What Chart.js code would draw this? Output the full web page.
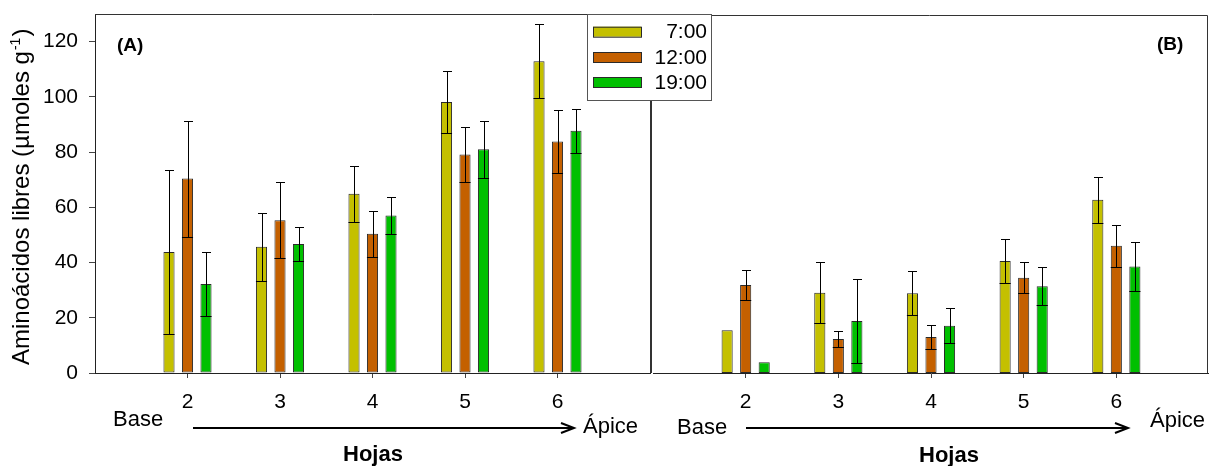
<!DOCTYPE html>
<html><head><meta charset="utf-8">
<script src="https://cdn.jsdelivr.net/npm/chart.js@4.4.1/dist/chart.umd.min.js"></script>
<style>
html,body{margin:0;padding:0;background:#fff;}
#wrap{position:relative;width:1209px;height:466px;overflow:hidden;}
canvas{position:absolute;left:0;top:0;}
</style></head><body>
<div id="wrap"><canvas id="ca" width="1209" height="466"></canvas><canvas id="cb" width="1209" height="466"></canvas></div>
<script>
// ---- data ----
const leaves = [2, 3, 4, 5, 6];
const yTicks = [0, 20, 40, 60, 80, 100, 120];
const seriesNames = ['7:00', '12:00', '19:00'];

const a700 = [43.8, 45.7, 64.9, 98.1, 112.9];
const a700sd = [29.8, 12.4, 10.1, 11.3, 13.4];
const a1200 = [70.4, 55.3, 50.4, 79.1, 83.8];
const a1200sd = [21.0, 13.8, 8.4, 10.0, 11.3];
const a1900 = [32.2, 46.7, 57.0, 81.0, 87.7];
const a1900sd = [11.6, 6.3, 6.8, 10.3, 7.9];

const b700 = [15.5, 29.1, 28.9, 40.6, 62.7];
const b700sd = [0, 11.0, 8.0, 8.0, 8.4];
const b1200 = [31.9, 12.3, 13.0, 34.5, 46.1];
const b1200sd = [5.3, 3.0, 4.3, 5.6, 7.6];
const b1900 = [3.9, 18.8, 17.1, 31.4, 38.6];
const b1900sd = [0, 15.2, 6.3, 6.9, 9.0];

// ---- styles ----
const FONT = '"Liberation Sans", Arial, sans-serif';
const colors = ['#c4c000', '#c46000', '#00c000'];
Chart.defaults.font.family = FONT;
Chart.defaults.color = '#000';

function makeDatasets(vals, sds) {
  return vals.map((v, i) => ({
    label: seriesNames[i],
    data: leaves.map((x, j) => ({ x: x, y: v[j] })),
    errors: sds[i],
    backgroundColor: colors[i],
    borderColor: '#2a2a2a',
    borderWidth: 1,
    borderSkipped: false,
    categoryPercentage: 0.6,
    barPercentage: 0.6
  }));
}

const errorBars = {
  id: 'errorBars',
  afterDatasetsDraw(chart) {
    const ctx = chart.ctx, ys = chart.scales.y;
    ctx.save();
    ctx.strokeStyle = '#000';
    ctx.lineWidth = 1;
    chart.data.datasets.forEach((ds, i) => {
      const meta = chart.getDatasetMeta(i);
      meta.data.forEach((bar, j) => {
        const sd = ds.errors[j];
        if (!sd) return;
        const v = ds.data[j].y;
        const x = Math.round(bar.x) + 0.5;
        const yt = Math.round(ys.getPixelForValue(v + sd)) + 0.5;
        const yb = Math.round(ys.getPixelForValue(v - sd)) + 0.5;
        const hw = bar.width / 2;
        ctx.beginPath();
        ctx.moveTo(x, yb); ctx.lineTo(x, yt);
        ctx.moveTo(x - 4.5, yt); ctx.lineTo(x + 4.5, yt);
        ctx.moveTo(bar.x - hw, yb); ctx.lineTo(bar.x + hw, yb);
        ctx.stroke();
      });
    });
    ctx.restore();
  }
};

function drawArrow(ctx, x1, x2, y) {
  ctx.save();
  ctx.strokeStyle = '#000';
  ctx.lineWidth = 2;
  ctx.beginPath();
  ctx.moveTo(x1, y); ctx.lineTo(x2, y);
  ctx.moveTo(x2 - 13, y - 5); ctx.lineTo(x2, y); ctx.lineTo(x2 - 13, y + 5);
  ctx.stroke();
  ctx.restore();
}

function text(ctx, s, x, y, font, align) {
  ctx.save();
  ctx.font = font;
  ctx.fillStyle = '#000';
  ctx.textAlign = align || 'left';
  ctx.textBaseline = 'middle';
  ctx.fillText(s, x, y);
  ctx.restore();
}

const decoA = {
  id: 'decoA',
  afterDraw(chart) {
    const ctx = chart.ctx, a = chart.chartArea;
    ctx.save();
    ctx.strokeStyle = '#333';
    ctx.lineWidth = 1;
    ctx.beginPath();
    ctx.moveTo(a.left, a.top + 0.5); ctx.lineTo(a.right + 0.5, a.top + 0.5);
    ctx.lineTo(a.right + 0.5, a.bottom);
    ctx.stroke();
    ctx.restore();
    text(ctx, '(A)', 117, 46, 'bold 19px ' + FONT);
    text(ctx, 'Base', 113, 420, '22px ' + FONT);
    text(ctx, 'Ápice', 583, 427, '22px ' + FONT);
    drawArrow(ctx, 193, 574, 428);
    text(ctx, 'Hojas', 373, 455, 'bold 22px ' + FONT, 'center');
    // y title
    ctx.save();
    ctx.translate(29, 365);
    ctx.rotate(-Math.PI / 2);
    ctx.fillStyle = '#000';
    ctx.textBaseline = 'alphabetic';
    ctx.font = '24px ' + FONT;
    const main = 'Aminoácidos libres (µmoles g';
    ctx.fillText(main, 0, 0);
    let w = ctx.measureText(main).width;
    ctx.font = '14px ' + FONT;
    ctx.fillText('-1', w + 1, -9);
    w += ctx.measureText('-1').width + 2;
    ctx.font = '24px ' + FONT;
    ctx.fillText(')', w, 0);
    ctx.restore();
  }
};

const decoB = {
  id: 'decoB',
  afterDraw(chart) {
    const ctx = chart.ctx, a = chart.chartArea;
    ctx.save();
    ctx.strokeStyle = '#333';
    ctx.lineWidth = 1;
    ctx.beginPath();
    ctx.moveTo(a.left - 1.5, a.bottom); ctx.lineTo(a.left - 1.5, a.top + 1.5);
    ctx.lineTo(a.right - 1.5, a.top + 1.5); ctx.lineTo(a.right - 1.5, a.bottom);
    ctx.stroke();
    ctx.restore();
    text(ctx, '(B)', 1157, 45, 'bold 19px ' + FONT);
    text(ctx, 'Base', 677, 428, '22px ' + FONT);
    text(ctx, 'Ápice', 1150, 421, '22px ' + FONT);
    drawArrow(ctx, 746, 1128, 428);
    text(ctx, 'Hojas', 949, 456, 'bold 22px ' + FONT, 'center');
    // legend box
    ctx.save();
    ctx.fillStyle = '#fff';
    ctx.fillRect(587, 14, 125, 86);
    ctx.strokeStyle = '#555';
    ctx.lineWidth = 1;
    ctx.strokeRect(587.5, 14.5, 124, 86);
    const rows = [31.7, 57, 82];
    rows.forEach((ry, i) => {
      ctx.fillStyle = colors[i];
      ctx.fillRect(593, ry - 5, 48, 10);
      ctx.strokeStyle = '#2a2a2a';
      ctx.strokeRect(593.5, ry - 5 + 0.5, 48, 10);
      text(ctx, seriesNames[i], 707, ry + 1, '21px ' + FONT, 'right');
    });
    ctx.restore();
  }
};

function xAxis() {
  return {
    type: 'linear', min: 1, max: 7, offset: false,
    afterBuildTicks: s => { s.ticks = leaves.map(v => ({ value: v })); },
    afterFit: s => { s.height = 93; s.paddingLeft = 0; s.paddingRight = 0; },
    grid: { offset: false, drawOnChartArea: false, drawTicks: true, tickLength: 5, color: '#444' },
    border: { display: true, color: '#222', width: 1 },
    ticks: { font: { size: 21 }, padding: 12, color: '#000', maxRotation: 0 }
  };
}
function yAxis(show) {
  return {
    type: 'linear', min: 0, max: 130, display: show,
    afterBuildTicks: s => { s.ticks = yTicks.map(v => ({ value: v })); },
    afterFit: s => { if (show) s.width = 95; s.paddingTop = 0; s.paddingBottom = 0; },
    grid: { drawOnChartArea: false, drawTicks: true, tickLength: 6, color: '#444' },
    border: { display: true, color: '#222', width: 1 },
    ticks: { font: { size: 21 }, padding: 11, color: '#000' }
  };
}

const common = {
  responsive: false, animation: false, devicePixelRatio: 1,
  plugins: { legend: { display: false }, tooltip: { enabled: false } }
};

new Chart(document.getElementById('ca'), {
  type: 'bar',
  data: { datasets: makeDatasets([a700, a1200, a1900], [a700sd, a1200sd, a1900sd]) },
  options: Object.assign({}, common, {
    layout: { padding: { left: 0, top: 14, right: 559, bottom: 0 } },
    scales: { x: xAxis(), y: yAxis(true) }
  }),
  plugins: [errorBars, decoA]
});

new Chart(document.getElementById('cb'), {
  type: 'bar',
  data: { datasets: makeDatasets([b700, b1200, b1900], [b700sd, b1200sd, b1900sd]) },
  options: Object.assign({}, common, {
    layout: { padding: { left: 653, top: 14, right: 0, bottom: 0 } },
    scales: { x: xAxis(), y: yAxis(false) }
  }),
  plugins: [errorBars, decoB]
});
</script>
</body></html>
